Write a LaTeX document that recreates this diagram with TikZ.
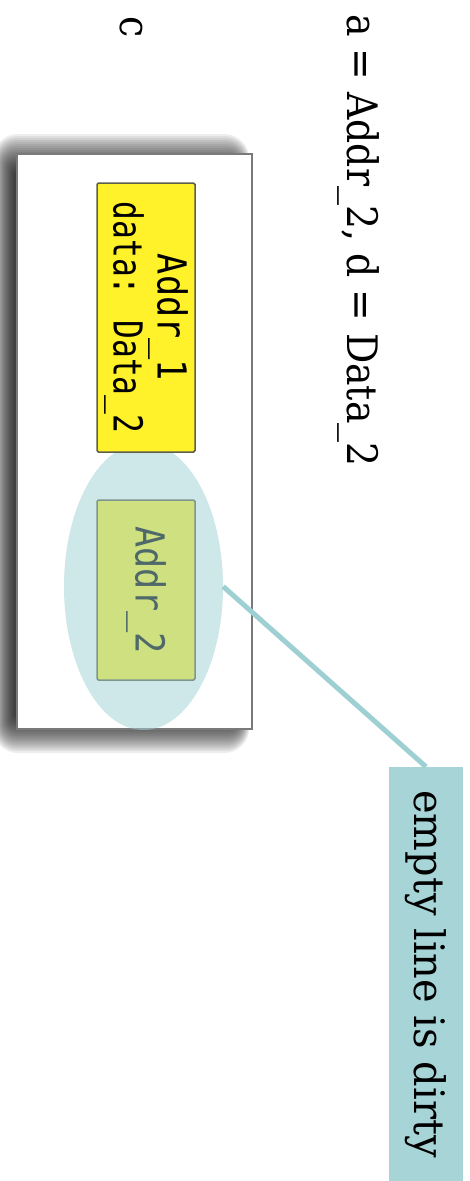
\documentclass[tikz,border=0pt]{standalone}
\usepackage{fontspec}
\setmainfont{DejaVu Serif}
\newfontfamily\pixfont{DejaVu Sans Mono}
\usetikzlibrary{shapes.geometric}
\definecolor{callteal}{HTML}{A7D4D6}
\definecolor{hlteal}{HTML}{9ED0D3}
\definecolor{boxyellow}{HTML}{FFF22B}
\definecolor{boxedge}{HTML}{5E5E4A}
\definecolor{frameedge}{HTML}{7A7A7A}
\newcommand{\wide}[1]{\scalebox{0.9}[1]{#1}}
\newcommand{\pix}[2]{\scalebox{#1}[1]{#2}}
\tikzset{
  bigtext/.style={font=\fontsize{42}{50}\selectfont, inner sep=0pt, rotate=-90},
  monotext/.style={font=\pixfont\fontsize{40}{44}\selectfont},
  cell/.style={draw=boxedge, line width=1.5pt, fill=boxyellow, rounded corners=1.5pt,
    rotate=-90, inner sep=0pt, align=center, monotext},
  frame/.style={draw=frameedge, line width=1.5pt, fill=white},
  shadowlayer/.style={fill=black, fill opacity=0.065},
  highlight/.style={ellipse, fill=hlteal, fill opacity=0.5, inner sep=0pt},
  callout/.style={fill=callteal, rotate=-90, inner sep=0pt, font=\fontsize{42}{50}\selectfont},
  leader/.style={draw=hlteal, line width=5pt},
}
\begin{document}
\begin{tikzpicture}[x=1pt,y=-1pt]
\useasboundingbox (0,0) rectangle (470,1181);
\node[bigtext, anchor=base west] (eq) at (347,14) {\wide{a = Addr\_2, d = Data\_2}};
\node[bigtext, anchor=base west] (lbl) at (120,16) {\wide{c}};
\foreach \i in {0,...,19} {
  \pgfmathsetmacro\rc{2+1.2*\i}
  \fill[shadowlayer, rounded corners=\rc pt] ({14-1.1*\i},{172-2*\i}) rectangle ({234+0.8*\i},{717+1.9*\i});
}
\node[frame, minimum width=235pt, minimum height=575pt, inner sep=0pt] (fr) at (134.5,441.5) {};
\node[cell, minimum width=180pt, minimum height=98pt] (b2) at (146,590) {\pix{0.88}{Addr\_2}};
\node[highlight, minimum width=159pt, minimum height=287pt] (hl) at (143.5,586.5) {};
\node[cell, minimum width=269pt, minimum height=98pt] (b1) at (146,317.5) {\pix{0.88}{Addr\_1}\\\pix{0.78}{data: Data\_2}};
\node[callout, minimum width=414pt, minimum height=74pt] (co) at (426,974) {\scalebox{0.95}[1]{empty line is dirty}};
\draw[leader] (hl.east) -- (co.west);
\end{tikzpicture}
\end{document}
